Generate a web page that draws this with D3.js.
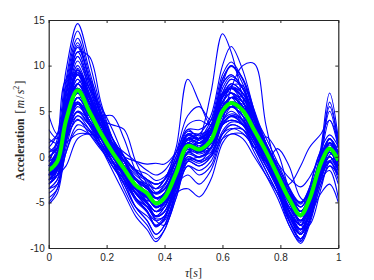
<!DOCTYPE html>
<html>
<head>
<meta charset="utf-8">
<script src="https://cdn.jsdelivr.net/npm/d3@7"></script>
<style>
  body { margin:0; background:#fff; }
  .axis text { font-family:"Liberation Sans", Arial, sans-serif; font-size:10px; fill:#262626; }
  .axis path, .axis line { stroke:#262626; }
</style>
</head>
<body>
<div id="canvas"></div>
<script>
// time samples (s)
var tau = [0, 0.03, 0.06, 0.1, 0.14, 0.18, 0.22, 0.26, 0.3, 0.34, 0.37, 0.4, 0.44, 0.48,
           0.52, 0.56, 0.6, 0.63, 0.67, 0.71, 0.75, 0.79, 0.83, 0.87, 0.9, 0.94, 0.97, 1.0];

// mean acceleration (green)
var meanAcc = [-1.5, -0.5, 4.0, 7.3, 5.0, 2.6, 0.5, -1.3, -3.1, -4.0, -5.1, -4.5, -1.8, 1.2,
               0.8, 1.8, 5.0, 5.9, 5.1, 2.9, 0.6, -2.0, -4.6, -6.4, -4.7, -0.7, 0.9, -0.4];

// individual records (blue)
var records = [
  [1.0, 2.5, 9.5, 14.6, 10.5, 5.5, 2.0, -0.5, -3.0, -5.0, -6.5, -5.5, -2.5, 1.0, 1.5, 3.0, 7.0, 8.5, 7.5, 4.0, 0.5, -3.0, -6.0, -8.0, -6.5, -1.0, 2.0, 0.5],
  [-2.5, -1.5, 3.0, 8.0, 6.0, 3.0, 0.5, -2.0, -4.0, -5.5, -6.5, -5.5, -2.0, 0.5, 2.0, 7.0, 13.5, 11.5, 6.5, 2.0, 0.0, -3.0, -6.0, -8.0, -6.0, -1.0, 2.0, 0.0],
  [-1.0, 0.0, 5.0, 9.0, 6.5, 3.5, 1.0, -1.0, -2.5, -3.0, -3.5, -2.5, 1.0, 8.5, 6.0, 3.5, 6.0, 7.0, 6.0, 3.5, 1.0, -1.5, -4.0, -6.0, -4.5, 0.0, 2.0, 0.5],
  [-2.0, -1.0, 3.5, 6.5, 4.5, 2.0, 0.0, -1.5, -3.0, -4.0, -5.0, -4.5, -2.5, 0.5, 0.5, 1.5, 4.0, 7.5, 10.0, 10.2, 3.5, -1.5, -4.0, -6.0, -5.0, -1.0, 1.0, -0.5],
  [0.5, 1.5, 5.5, 8.0, 6.0, 3.5, 1.5, 0.0, -1.5, -2.5, -3.0, -2.5, -0.5, 2.5, 2.5, 3.0, 5.5, 6.5, 5.5, 2.5, -0.5, -2.5, -3.0, -1.0, 1.0, 2.5, 4.0, 1.5],
  [-1.0, 0.0, 4.5, 7.0, 5.0, 2.5, 0.5, -1.0, -2.5, -3.5, -4.0, -3.5, -1.0, 2.0, 1.5, 2.5, 6.0, 7.0, 5.5, 2.5, -0.5, 0.9, -1.0, -4.5, -5.0, -2.0, 0.5, -1.0],
  [-2.0, -1.0, 3.0, 6.0, 4.0, 2.0, 0.0, -1.5, -3.0, -4.0, -4.5, -4.0, -1.5, 1.5, 1.0, 2.0, 5.5, 6.5, 4.5, 1.0, 2.2, 0.5, -3.5, -6.0, -5.0, -1.5, 0.0, -1.5],
  [-3.0, -2.0, 2.5, 6.5, 4.5, 2.0, 0.0, -2.0, -4.0, -5.0, -6.0, -5.5, -2.5, 0.5, 0.0, 1.0, 4.5, 5.5, 4.5, 2.0, -0.5, -3.0, -6.0, -8.0, -6.0, 1.0, 7.0, 2.0],
  [-1.5, -0.5, 5.0, 9.0, 6.5, 3.5, 1.0, -1.0, -3.0, -4.5, -5.5, -5.0, -2.0, 1.5, 1.0, 2.5, 6.5, 7.5, 6.0, 3.0, 0.0, -3.0, -6.0, -7.5, -5.5, 0.5, 6.0, 1.5],
  [-4.5, -3.5, 1.0, 4.5, 3.0, 1.0, -1.5, -4.0, -6.5, -8.0, -9.3, -8.0, -4.5, -1.0, -2.0, -1.0, 2.5, 3.5, 3.0, 0.5, -2.0, -4.5, -7.5, -9.5, -7.5, -3.0, -1.0, -3.0],
  [-3.5, -2.5, 2.0, 5.5, 4.0, 1.5, -1.0, -3.0, -5.5, -7.0, -8.5, -7.5, -4.0, -0.5, -1.0, 0.0, 3.5, 4.5, 3.5, 1.0, -1.5, -4.0, -7.0, -9.0, -7.0, -2.5, -0.5, -2.5],
  [-5.2, -4.0, 0.5, 3.0, 2.5, 1.0, -1.0, -2.5, -4.5, -6.0, -7.0, -6.5, -4.0, -3.5, -4.4, -2.5, 1.5, 2.5, 2.0, 0.0, -2.0, -4.0, -6.5, -8.0, -6.5, -2.5, -1.5, -4.5],
  [4.6, 2.5, 4.5, 8.0, 6.5, 4.0, 1.5, -1.0, -3.0, -4.0, -4.5, -4.0, -1.0, 2.0, 1.5, 2.0, 4.5, 5.5, 5.0, 3.0, 1.0, -1.5, -4.0, -6.0, -4.5, -0.5, 1.5, 1.0],
  [0.0, 1.0, 4.5, 6.0, 4.5, 2.5, 1.0, 0.0, -0.5, -0.8, -0.7, -0.8, 0.5, 3.0, 2.0, 2.5, 5.0, 6.0, 5.0, 3.0, 0.5, -2.0, -4.5, -6.0, -4.5, -0.5, 1.0, -0.5],
  [-2.0, -1.0, 4.5, 9.5, 7.5, 5.5, 3.0, 0.0, -2.5, -4.0, -5.0, -4.5, -2.0, 1.0, 0.5, 1.5, 5.0, 6.5, 5.5, 3.0, 0.5, -2.5, -5.0, -7.0, -5.0, -1.0, 1.0, -1.0],
  [-1.0, -0.5, 3.5, 7.0, 5.5, 4.0, 3.5, 3.0, -0.5, -3.0, -4.5, -4.0, -1.5, 1.5, 1.0, 2.0, 5.0, 6.0, 5.0, 2.5, 0.0, -2.5, -5.0, -6.5, -5.0, -1.0, 0.5, -1.0],
  [-2.5, -2.0, -1.0, 2.0, 2.5, 2.0, 0.5, -1.0, -2.5, -3.5, -4.0, -3.5, -1.5, 1.0, 0.5, 1.0, 3.5, 4.5, 4.0, 2.0, 0.0, -2.0, -4.5, -6.0, -4.5, -1.0, 0.5, -1.5],
  [-2.0, -0.8, 5.0, 9.5, 6.5, 3.5, 0.5, -1.8, -4.0, -5.2, -6.5, -6.0, -2.5, 1.5, 1.0, 2.5, 6.5, 7.5, 6.5, 3.5, 0.5, -2.5, -6.0, -8.3, -6.0, -1.0, 1.0, -0.5],
  [-1.2, -0.4, 3.2, 5.8, 4.0, 2.1, 0.4, -1.0, -2.5, -3.2, -4.1, -3.6, -1.4, 1.0, 0.6, 1.4, 4.0, 4.7, 4.1, 2.3, 0.5, -1.6, -3.7, -5.1, -3.8, -0.6, 0.7, -0.3],
  [-0.5, 0.5, 5.5, 9.0, 6.5, 4.0, 1.5, -0.5, -2.5, -3.5, -4.5, -4.0, -1.0, 2.3, 2.0, 3.0, 6.5, 7.5, 6.5, 4.0, 1.5, -1.2, -4.0, -6.0, -4.2, 0.2, 2.0, 0.5],
  [-3.0, -2.0, 2.5, 5.8, 3.5, 1.1, -1.0, -2.8, -4.6, -5.5, -6.6, -6.0, -3.3, -0.3, -0.7, 0.3, 3.5, 4.4, 3.6, 1.4, -0.9, -3.5, -6.1, -7.9, -6.2, -2.2, -0.6, -1.9],
  [-0.5, 1.5, 6.0, 7.0, 4.0, 1.5, -0.5, -2.0, -3.8, -4.8, -5.0, -4.0, -0.5, 1.5, 1.0, 3.0, 5.8, 5.8, 4.0, 1.8, -0.5, -3.2, -5.5, -6.5, -3.5, 0.5, 0.8, -1.0],
  [-2.0, -1.5, 2.0, 6.5, 5.8, 3.5, 1.5, -0.5, -2.3, -3.3, -4.5, -5.0, -3.0, 0.5, 1.0, 1.0, 3.8, 5.5, 5.8, 4.0, 1.5, -1.0, -3.5, -6.0, -5.5, -2.5, 0.2, 0.5],
  [-2.5, -1.0, 6.0, 11.0, 7.5, 4.0, 0.8, -2.0, -4.6, -6.0, -7.6, -6.8, -2.7, 1.8, 1.2, 2.7, 7.5, 8.8, 7.6, 4.3, 0.9, -3.0, -6.9, -9.0, -7.0, -1.0, 1.3, -0.6],
  [-2.0, 0.0, 7.5, 12.5, 8.5, 4.5, 1.0, -2.0, -4.5, -6.0, -7.5, -6.5, -2.5, 2.0, 1.5, 3.0, 8.0, 10.0, 8.5, 4.8, 1.0, -3.0, -7.0, -8.5, -6.5, -1.0, 1.5, -0.5],
  [-0.5, 0.2, 3.0, 4.9, 3.5, 2.1, 0.8, -0.3, -1.4, -1.9, -2.6, -2.2, -0.6, 1.2, 1.0, 1.6, 3.5, 4.0, 3.6, 2.2, 0.9, -0.7, -2.3, -3.3, -2.3, 0.1, 1.0, 0.3],
  [-1.3, 0.0, 5.3, 9.3, 6.5, 3.6, 1.1, -1.1, -3.2, -4.3, -5.6, -4.9, -1.7, 1.9, 1.5, 2.7, 6.5, 7.6, 6.6, 4.0, 1.2, -1.9, -5.0, -7.2, -5.1, -0.3, 1.6, 0.0],
  [-2.1, -1.2, 2.8, 5.8, 3.7, 1.5, -0.4, -2.0, -3.6, -4.4, -5.4, -4.9, -2.4, 0.3, -0.1, 0.8, 3.7, 4.5, 3.8, 1.8, -0.3, -2.6, -4.9, -6.6, -5.0, -1.4, 0.0, -1.2],
  [-2.6, -1.2, 5.0, 9.7, 6.5, 3.1, 0.2, -2.3, -4.8, -6.1, -7.6, -6.8, -3.0, 1.2, 0.6, 1.5, 5.5, 7.8, 7.8, 4.8, 0.5, -3.3, -7.0, -9.0, -7.2, -1.5, 0.8, -1.0],
  [0.0, 1.0, 5.7, 9.2, 6.8, 4.2, 2.0, 0.1, -1.8, -2.7, -3.9, -3.2, -0.4, 2.8, 2.3, 3.4, 6.8, 7.7, 6.9, 4.5, 2.1, -0.6, -3.3, -5.2, -3.4, 0.8, 2.4, 1.1],
  [-1.9, 0.0, 6.9, 12.2, 8.5, 4.7, 1.3, -1.6, -4.5, -5.9, -7.7, -6.7, -2.4, 2.4, 1.8, 3.4, 8.5, 9.9, 8.6, 5.1, 1.5, -2.7, -6.9, -9.2, -7.0, -0.6, 1.9, -0.1],
  [-2.1, -1.4, 1.8, 4.1, 2.5, 0.8, -0.7, -1.9, -3.2, -3.8, -4.6, -4.2, -2.3, -0.2, -0.4, 0.3, 2.5, 3.1, 2.6, 1.0, -0.6, -2.4, -4.2, -5.5, -4.3, -1.5, -0.4, -1.3],
  [-1.0, 1.0, 8.5, 13.8, 9.5, 5.0, 1.5, -1.0, -3.0, -4.5, -5.5, -5.0, -2.0, 1.5, 1.0, 2.0, 5.5, 6.5, 5.5, 3.0, 0.5, -2.0, -5.0, -7.0, -5.5, -0.5, 1.5, 0.0],
  [-1.5, -0.5, 4.5, 8.5, 6.0, 3.0, 0.5, -1.5, -3.5, -4.5, -5.5, -5.0, -2.0, 2.0, 2.5, 4.5, 10.0, 12.1, 9.5, 5.0, 1.0, -2.5, -6.0, -8.0, -6.0, -1.0, 1.5, -0.5],
  [-2.0, -1.0, 4.0, 7.5, 5.5, 3.0, 0.5, -1.5, -3.5, -4.5, -5.5, -5.0, -2.0, 1.5, 2.0, 4.0, 9.0, 10.4, 8.5, 4.5, 1.0, -2.5, -6.0, -7.5, -5.5, -1.0, 1.0, -1.0],
  [-1.0, 0.0, 4.5, 8.0, 5.5, 3.0, 1.0, -0.5, -2.0, -3.0, -3.5, -2.5, 0.5, 4.5, 5.5, 4.0, 6.5, 7.5, 6.5, 3.5, 0.5, -2.0, -5.0, -6.5, -5.0, -0.5, 1.0, -0.5],
  [-1.5, -0.5, 4.0, 7.0, 5.0, 2.5, 0.5, -1.0, -2.5, -3.5, -4.0, -3.0, 0.0, 3.5, 4.0, 3.5, 6.0, 7.0, 6.0, 3.0, 0.5, -2.0, -5.0, -7.0, -5.0, -0.5, 1.0, -1.0],
  [-3.5, -2.5, 2.0, 5.0, 3.5, 1.5, -0.5, -2.0, -4.0, -5.0, -6.0, -5.5, -2.5, 0.5, 0.0, 1.0, 4.0, 5.0, 4.0, 2.0, -0.5, -3.0, -5.5, -7.5, -6.5, -4.0, -3.0, -5.0],
  [-1.0, 0.0, 4.0, 7.5, 5.5, 3.0, 0.5, -1.5, -3.5, -4.5, -5.5, -5.0, -2.0, 1.0, 0.5, 1.5, 5.0, 6.0, 5.0, 2.5, 0.0, -2.5, -5.5, -7.0, -5.0, 0.5, 5.0, 1.0],
  [-3.0, -2.0, 2.0, 4.0, 3.0, 1.5, -0.5, -2.0, -3.5, -4.5, -5.0, -4.5, -3.0, -2.0, -3.0, -1.5, 2.0, 3.0, 3.0, 1.5, -0.5, -2.5, -5.0, -7.0, -6.0, -2.0, -0.5, -2.0],
  [-1.0, 0.5, 6.5, 11.5, 8.0, 4.0, 1.0, -1.5, -4.0, -5.0, -6.0, -5.2, -2.0, 0.8, 0.3, 1.0, 3.5, 4.0, 3.5, 2.0, 0.0, -2.0, -4.0, -5.0, -3.8, -0.5, 0.8, -0.5],
  [-2.0, -0.5, 5.5, 10.5, 7.5, 4.0, 1.0, -1.5, -4.0, -5.5, -6.5, -6.0, -2.5, 1.5, 1.0, 2.5, 6.8, 8.0, 7.0, 4.0, 1.0, -2.5, -5.8, -7.5, -5.8, -1.2, 1.0, -0.8],
  [-3.5, -3.0, 0.5, 3.5, 2.8, 1.2, -0.5, -2.0, -4.0, -5.5, -6.8, -6.5, -3.5, -0.5, -1.0, 0.0, 2.8, 3.8, 3.5, 1.5, -1.0, -3.5, -6.5, -8.5, -7.0, -3.0, -1.0, -2.0],
  [-5.0, -3.5, 1.5, 5.0, 4.0, 2.0, 0.0, -1.5, -3.0, -4.0, -5.0, -4.5, -2.0, 1.0, 0.5, 1.5, 4.5, 5.5, 5.0, 3.0, 0.5, -2.0, -4.5, -6.5, -5.0, -1.0, 0.5, -1.0],
  [-2.0, -1.0, 4.5, 11.5, 11.0, 6.0, 2.0, -1.0, -3.5, -5.0, -6.5, -6.0, -3.0, 1.0, 1.0, 2.0, 6.0, 7.5, 7.0, 4.5, 1.0, -2.5, -6.0, -8.5, -7.0, -2.0, 0.5, -1.0],
  [-0.5, 2.0, 8.5, 9.0, 5.5, 2.5, 0.0, -2.0, -4.0, -5.0, -6.0, -5.0, -1.5, 2.0, 1.5, 3.0, 7.0, 7.0, 5.0, 2.0, -0.5, -3.0, -6.0, -7.5, -4.5, 0.0, 1.5, -0.5],
  [-1.5, -0.5, 3.5, 7.5, 6.0, 4.5, 4.5, 2.0, -1.5, -3.5, -4.5, -4.0, -1.5, 1.5, 1.0, 2.0, 5.0, 6.0, 5.5, 3.5, 1.0, -2.0, -4.5, -6.5, -5.0, -1.0, 0.5, -1.0],
  [0.5, 1.0, 4.0, 6.0, 4.5, 3.0, 1.5, 0.5, -0.5, -1.5, -2.0, -1.5, 0.5, 3.0, 3.0, 4.0, 8.0, 9.0, 7.5, 4.5, 1.5, -1.5, -4.0, -5.5, -4.0, -0.5, 1.0, 0.0],
  [-1.5, 0.5, 8.0, 13.0, 9.0, 4.5, 0.5, -2.5, -5.5, -7.0, -8.5, -7.5, -3.5, 1.0, 0.5, 2.0, 6.5, 8.0, 7.0, 4.0, 0.5, -3.5, -7.5, -9.3, -7.0, -1.5, 0.5, -1.0],
  [1.0, 0.5, 1.5, 2.5, 2.5, 2.0, 1.0, -0.5, -1.5, -2.5, -3.0, -2.5, -0.5, 2.0, 1.5, 2.0, 3.5, 4.0, 3.5, 2.0, 0.0, -2.0, -4.0, -5.0, -3.5, -0.5, 0.5, -0.5],
  [-2.5, -1.0, 4.5, 8.5, 6.0, 3.0, 0.5, -1.5, -3.5, -4.5, -5.5, -5.0, -2.5, 0.0, -0.5, 0.0, 2.0, 2.5, 2.5, 1.0, -1.0, -3.0, -5.0, -7.0, -6.0, -2.0, 0.0, -1.5],
  [1.5, 2.5, 7.0, 11.0, 8.0, 4.5, 2.0, 0.0, -1.5, -2.5, -3.5, -3.0, -0.5, 2.5, 2.0, 3.0, 5.5, 6.5, 6.0, 4.0, 1.5, -1.0, -3.5, -5.5, -4.0, 0.0, 1.5, 0.5],
  [-2.5, -1.5, 3.5, 7.5, 5.0, 2.0, -0.5, -2.5, -4.5, -5.5, -6.5, -6.0, -3.0, 1.0, 1.5, 3.0, 8.5, 10.0, 8.0, 4.0, 0.5, -3.0, -6.5, -8.5, -6.0, 0.0, 4.0, 1.0],
  [0.0, 1.0, 6.0, 10.0, 7.0, 4.0, 2.0, 0.0, -1.5, -2.5, -3.0, -2.5, 0.0, 2.5, 2.0, 2.5, 5.0, 5.5, 4.5, 2.5, 0.5, -1.5, -3.5, -5.0, -4.0, -1.0, 0.5, -0.5],
  [-4.0, -3.0, 2.5, 6.5, 4.5, 2.0, -0.5, -3.0, -5.5, -6.5, -7.5, -7.0, -4.0, -1.0, -1.5, -0.5, 2.5, 3.5, 3.0, 1.0, -1.5, -4.0, -6.5, -8.0, -6.5, -2.0, 0.0, -2.0],
  [-1.0, 0.5, 7.0, 12.0, 8.5, 4.5, 1.5, -1.0, -3.5, -5.0, -6.0, -5.5, -2.0, 2.0, 2.0, 3.5, 8.0, 9.0, 7.5, 4.0, 0.5, -2.5, -6.0, -8.0, -6.5, -1.5, 1.0, -0.5],
  [-2.5, -2.0, 2.0, 8.0, 8.5, 5.0, 2.0, -0.5, -3.0, -5.0, -7.0, -7.5, -4.5, -0.5, 0.0, 0.5, 4.0, 6.5, 6.5, 4.5, 1.5, -1.5, -4.5, -7.5, -7.5, -3.5, -0.5, 0.0],
  [-1.0, -0.5, 2.5, 4.5, 3.5, 2.0, 0.5, -1.0, -2.5, -3.5, -4.5, -4.0, -1.5, 1.5, 1.0, 2.5, 6.0, 7.0, 6.0, 3.5, 0.5, -2.5, -5.5, -7.0, -5.5, -1.5, 0.5, -1.0],
  [3.0, 2.0, 5.5, 9.5, 7.0, 3.5, 1.0, -1.0, -2.5, -3.5, -4.0, -3.5, -1.0, 2.0, 1.5, 2.5, 5.5, 6.5, 5.5, 3.0, 0.5, -2.0, -4.5, -6.0, -4.5, -0.5, 1.0, 0.0],
  [2.0, 1.5, 4.5, 7.0, 5.0, 2.5, 0.5, -1.5, -3.5, -4.5, -5.5, -5.0, -2.0, 1.0, 0.5, 1.5, 4.5, 5.5, 4.5, 2.5, 0.0, -2.5, -5.0, -7.0, -5.5, -1.0, 0.5, -1.0],
  [-3.0, -1.5, 4.0, 9.0, 6.0, 2.5, -0.5, -3.5, -6.0, -7.5, -9.0, -8.0, -4.0, 0.0, -0.5, 1.0, 5.0, 6.5, 5.5, 2.5, -0.5, -3.5, -7.0, -9.0, -7.0, -2.0, 0.0, -1.5],
  [-1.5, -0.5, 4.0, 7.0, 5.0, 2.5, 0.5, -1.5, -3.0, -4.0, -5.0, -4.5, -1.5, 2.0, 2.0, 3.0, 7.0, 8.5, 7.5, 4.0, 0.5, -3.0, -6.5, -8.5, -6.0, 0.5, 5.5, 1.5]
];

var xTicks = [0, 0.2, 0.4, 0.6, 0.8, 1];
var yTicks = [-10, -5, 0, 5, 10, 15];

var outerWidth = 374, outerHeight = 280;
var m = {t:20, r:35.7, b:32, l:48.7};
var w = outerWidth - m.l - m.r,
    h = outerHeight - m.t - m.b;

var svg = d3.select('#canvas')
    .append('svg')
    .attr('width', outerWidth)
    .attr('height', outerHeight);

var plot = svg.append('g')
    .attr('transform', 'translate(' + m.l + ',' + m.t + ')');

var scaleX = d3.scaleLinear().domain([0, 1]).range([0, w]);
var scaleY = d3.scaleLinear().domain([-10, 15]).range([h, 0]);

plot.append('clipPath').attr('id', 'clip')
    .append('rect').attr('width', w).attr('height', h);

var line = d3.line()
    .x(function(d, i){ return scaleX(tau[i]); })
    .y(function(d){ return scaleY(d); })
    .curve(d3.curveCatmullRom.alpha(0.5));

var lines = plot.append('g').attr('clip-path', 'url(#clip)');

lines.selectAll('.rec')
    .data(records)
    .enter()
    .append('path')
    .attr('class', 'rec')
    .attr('d', line)
    .attr('fill', 'none')
    .attr('stroke', '#0000ff')
    .attr('stroke-width', 1.1);

lines.append('path')
    .datum(meanAcc)
    .attr('d', line)
    .attr('fill', 'none')
    .attr('stroke', '#00ff00')
    .attr('stroke-width', 4)
    .attr('stroke-linejoin', 'round');

// axes, MATLAB box style with ticks inside on all four sides
var fmt = function(d){ return d; };
plot.append('g').attr('class', 'axis')
    .attr('transform', 'translate(0,' + h + ')')
    .call(d3.axisBottom(scaleX).tickValues(xTicks).tickFormat(fmt).tickSizeInner(-3).tickSizeOuter(0).tickPadding(6));
plot.append('g').attr('class', 'axis')
    .call(d3.axisTop(scaleX).tickValues(xTicks).tickFormat('').tickSizeInner(-3).tickSizeOuter(0));
plot.append('g').attr('class', 'axis')
    .call(d3.axisLeft(scaleY).tickValues(yTicks).tickFormat(fmt).tickSizeInner(-3).tickSizeOuter(0).tickPadding(4));
plot.append('g').attr('class', 'axis')
    .attr('transform', 'translate(' + w + ',0)')
    .call(d3.axisRight(scaleY).tickValues(yTicks).tickFormat('').tickSizeInner(-3).tickSizeOuter(0));

plot.selectAll('.axis .domain').attr('stroke-width', 1.2);

// labels
var xl = svg.append('text')
    .attr('x', m.l + w / 2)
    .attr('y', 277)
    .attr('text-anchor', 'middle')
    .style('font-family', '"Liberation Serif", "DejaVu Serif", serif')
    .style('font-size', '12px')
    .style('fill', '#262626');
xl.append('tspan').style('font-style', 'italic').text('τ');
xl.append('tspan').text('[');
xl.append('tspan').style('font-style', 'italic').text('s');
xl.append('tspan').text(']');

var yl = svg.append('text')
    .attr('transform', 'translate(24,130.5) rotate(-90)')
    .attr('text-anchor', 'middle')
    .style('font-family', '"Liberation Serif", "DejaVu Serif", serif')
    .style('font-size', '11.5px')
    .style('fill', '#262626');
yl.append('tspan').style('font-weight', 'bold').text('Acceleration');
yl.append('tspan').attr('dx', 5).style('font-size', '13px').text('[');
yl.append('tspan').attr('dx', 1).style('font-style', 'italic').style('font-size', '12px').text('m');
yl.append('tspan').attr('dx', 1).style('font-size', '12px').text('/');
yl.append('tspan').attr('dx', 1).style('font-style', 'italic').style('font-size', '12px').text('s');
yl.append('tspan').style('font-size', '8px').attr('dy', -5).text('2');
yl.append('tspan').attr('dy', 5).attr('dx', 1).style('font-size', '13px').text(']');
</script>
</body>
</html>
